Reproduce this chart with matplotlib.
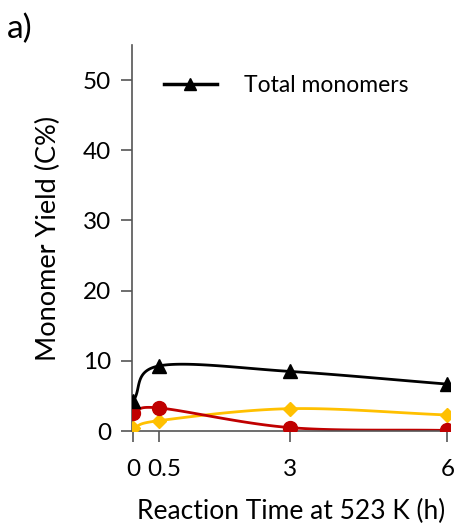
import numpy as np
import matplotlib
matplotlib.use("Agg")
import matplotlib.pyplot as plt
import matplotlib.transforms as mtransforms

plt.rcParams['font.family'] = ['Lato', 'DejaVu Sans']

time_h = [0, 0.5, 3, 6]
total = [4.3, 9.3, 8.5, 6.7]
red_series = [2.6, 3.3, 0.5, 0.1]
yellow_series = [0.4, 1.5, 3.2, 2.3]
x_ticks = [0, 0.5, 3, 6]
x_ticklabels = ["0", "0.5", "3", "6"]
y_ticks = [0, 10, 20, 30, 40, 50]


def smooth(x, y, n=40):
    # Catmull-Rom style smoothing (like Excel "smoothed line") for drawing
    x = np.asarray(x, float); y = np.asarray(y, float)
    px = np.concatenate([[2*x[0]-x[1]], x, [2*x[-1]-x[-2]]])
    py = np.concatenate([[2*y[0]-y[1]], y, [2*y[-1]-y[-2]]])
    xs, ys = [], []
    for i in range(1, len(px)-2):
        p0x, p1x, p2x, p3x = px[i-1:i+3]
        p0y, p1y, p2y, p3y = py[i-1:i+3]
        c1x = p1x + (p2x - p0x) / 6; c1y = p1y + (p2y - p0y) / 6
        c2x = p2x - (p3x - p1x) / 6; c2y = p2y - (p3y - p1y) / 6
        t = np.linspace(0, 1, n)
        bx = (1-t)**3*p1x + 3*(1-t)**2*t*c1x + 3*(1-t)*t**2*c2x + t**3*p2x
        by = (1-t)**3*p1y + 3*(1-t)**2*t*c1y + 3*(1-t)*t**2*c2y + t**3*p2y
        xs.append(bx); ys.append(by)
    return np.concatenate(xs), np.concatenate(ys)


fig = plt.figure(figsize=(4.54, 5.29), dpi=100)
ax = fig.add_axes([0.291, 0.185, 0.70, 0.73])

for ys, col, mk, ms, lab in [
    (yellow_series, '#FFC000', 'D', 7, None),
    (red_series, '#C00000', 'o', 10, None),
    (total, 'black', '^', 10, 'Total monomers'),
]:
    sx, sy = smooth(time_h, ys)
    ax.plot(sx, sy, color=col, lw=2, zorder=2)
    ax.plot(time_h, ys, linestyle='none', marker=mk, ms=ms, color=col, zorder=3)

ax.plot([], [], color='black', lw=2.5, marker='^', ms=9, label='Total monomers')
h, l = ax.get_legend_handles_labels()
ax.legend(h, l, loc='upper left', bbox_to_anchor=(0.035, 0.975), frameon=False,
          fontsize=16.5, handlelength=2.3, handletextpad=1.2)

ax.set_xlim(-0.02, 6.05)
ax.set_ylim(0, 55)
ax.set_xticks(x_ticks)
ax.set_xticklabels(x_ticklabels)
ax.set_yticks(y_ticks)
for s in ['top', 'right']:
    ax.spines[s].set_visible(False)
for s in ['left', 'bottom']:
    ax.spines[s].set_color('#555555')
    ax.spines[s].set_linewidth(1.2)
ax.tick_params(axis='both', direction='out', length=8, width=1.2, color='#555555',
               labelsize=17.5, pad=7)
ax.tick_params(axis='x', pad=12)
# nudge the "0.5" label right so it does not touch "0"
lbl = ax.get_xticklabels()[1]
lbl.set_transform(lbl.get_transform() + mtransforms.ScaledTranslation(5/100, 0, fig.dpi_scale_trans))
ax.set_ylabel('Monomer Yield (C%)', fontsize=19.5, labelpad=16)
ax.set_xlabel('Reaction Time at 523 K (h)', fontsize=19, labelpad=14)
fig.text(0.015, 0.975, 'a)', fontsize=24, va='top')

fig.savefig('out.png', dpi=100)
